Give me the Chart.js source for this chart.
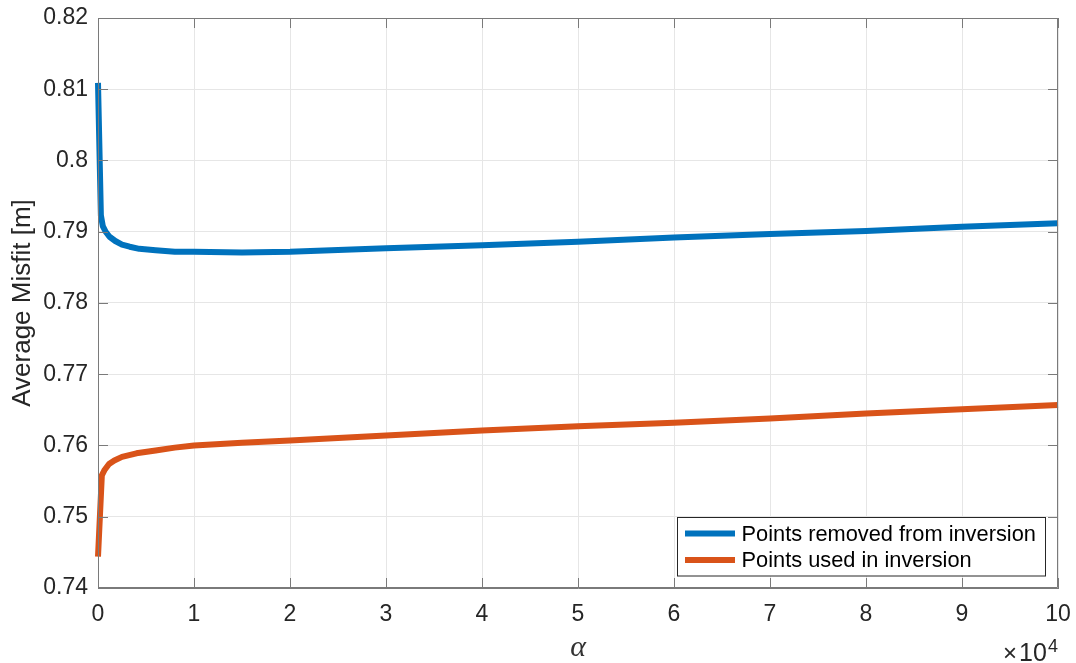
<!DOCTYPE html>
<html><head><meta charset="utf-8">
<script src="https://cdn.jsdelivr.net/npm/chart.js@4"></script>
<style>html,body{margin:0;padding:0;background:#fff}#wrap{width:1076px;height:663px}</style>
</head><body><div id="wrap"><canvas id="c" width="1076" height="663"></canvas></div>
<script>
// ---- data ----
const alphaRemoved  = [0, 300, 500, 800, 1200, 1800, 2500, 3300, 4300, 6000, 8000, 10000, 15000, 20000, 30000, 40000, 50000, 60000, 70000, 80000, 90000, 100000];
const misfitRemoved = [0.8109, 0.7923, 0.7908, 0.7900, 0.7893, 0.7887, 0.7882, 0.7879, 0.7876, 0.7874, 0.7872, 0.7872, 0.7871, 0.7872, 0.7877, 0.7881, 0.7886, 0.7892, 0.7897, 0.7901, 0.7907, 0.7912];
const alphaUsed  = [0, 400, 700, 1150, 1700, 2500, 4000, 6000, 8000, 10000, 15000, 20000, 30000, 40000, 50000, 60000, 70000, 80000, 90000, 100000];
const misfitUsed = [0.7444, 0.7558, 0.7566, 0.7574, 0.7579, 0.7584, 0.7589, 0.7593, 0.7597, 0.7600, 0.7604, 0.7607, 0.7614, 0.7621, 0.7627, 0.7632, 0.7638, 0.7645, 0.7651, 0.7657];
const seriesLabels = ['Points removed from inversion', 'Points used in inversion'];
const seriesColors = ['#0072BD', '#D95319'];
const xTickValues = [0,10000,20000,30000,40000,50000,60000,70000,80000,90000,100000];
const yTickValues = [0.74,0.75,0.76,0.77,0.78,0.79,0.80,0.81,0.82];

const FONT = 'Liberation Sans, Arial, Helvetica, sans-serif';
const AXIS = '#7a7a7a';
const TXT = '#262626';

const toXY = (xs, ys) => xs.map((x, i) => ({x, y: ys[i]}));

const boxPlugin = {
  id: 'matlabBox',
  afterDatasetsDraw(chart) {
    const {ctx, chartArea: a, scales} = chart;
    ctx.save();
    ctx.strokeStyle = AXIS; ctx.lineWidth = 1;
    ctx.beginPath();
    ctx.rect(a.left + 0.5, a.top + 0.5, a.right - a.left - 1, a.bottom - a.top - 1);
    ctx.stroke();
    const L = 10;
    ctx.beginPath();
    xTickValues.forEach(v => {
      const px = Math.round(scales.x.getPixelForValue(v)) + 0.5;
      ctx.moveTo(px, a.bottom); ctx.lineTo(px, a.bottom - L);
      ctx.moveTo(px, a.top); ctx.lineTo(px, a.top + L);
    });
    yTickValues.forEach(v => {
      const py = Math.round(scales.y.getPixelForValue(v)) + 0.5;
      ctx.moveTo(a.left, py); ctx.lineTo(a.left + L, py);
      ctx.moveTo(a.right, py); ctx.lineTo(a.right - L, py);
    });
    ctx.stroke();
    // legend
    const lx = 677.5, ly = 517.5, lw = 368, lh = 58.5;
    ctx.fillStyle = '#fff';
    ctx.fillRect(lx, ly, lw, lh);
    ctx.strokeStyle = '#262626'; ctx.lineWidth = 1;
    ctx.strokeRect(lx, ly, lw, lh);
    ctx.font = '21.8px ' + FONT;
    ctx.textBaseline = 'middle';
    chart.data.datasets.forEach((ds, i) => {
      const y = 533.5 + i * 26.5;
      ctx.strokeStyle = ds.borderColor; ctx.lineWidth = 6;
      ctx.beginPath(); ctx.moveTo(685, y); ctx.lineTo(735, y); ctx.stroke();
      ctx.fillStyle = '#000';
      ctx.fillText(ds.label, 741.5, y + 1);
    });
    // exponent
    ctx.fillStyle = TXT;
    ctx.textBaseline = 'alphabetic';
    ctx.textAlign = 'left';
    ctx.font = '24px ' + FONT;
    ctx.fillText('\u00D7', 1003, 661);
    ctx.font = '25px ' + FONT;
    ctx.fillText('10', 1019, 661);
    ctx.font = '18px ' + FONT;
    ctx.fillText('4', 1048, 652);
    ctx.restore();
  }
};

new Chart(document.getElementById('c'), {
  type: 'line',
  data: {
    datasets: [
      {label: seriesLabels[0], data: toXY(alphaRemoved, misfitRemoved), borderColor: seriesColors[0], backgroundColor: seriesColors[0], borderWidth: 6, pointRadius: 0, tension: 0, borderJoinStyle: 'round', fill: false, clip: false},
      {label: seriesLabels[1], data: toXY(alphaUsed, misfitUsed), borderColor: seriesColors[1], backgroundColor: seriesColors[1], borderWidth: 6, pointRadius: 0, tension: 0, borderJoinStyle: 'round', fill: false, clip: false}
    ]
  },
  options: {
    responsive: false, animation: false, devicePixelRatio: 1,
    layout: {padding: {top: 18, right: 18, left: 0, bottom: 0}},
    plugins: {legend: {display: false}, tooltip: {enabled: false}},
    scales: {
      x: {
        type: 'linear', min: 0, max: 100000,
        afterBuildTicks: s => { s.ticks = xTickValues.map(v => ({value: v})); },
        afterFit: s => { s.height = 75; s.paddingLeft = 0; s.paddingRight = 0; },
        ticks: {callback: v => String(v / 10000), font: {family: FONT, size: 23}, color: TXT, padding: 13, maxRotation: 0, autoSkip: false},
        grid: {color: '#e6e6e6', drawTicks: false, lineWidth: 1},
        border: {display: true, color: AXIS, width: 1},
        title: {display: true, text: '\u03B1', font: {family: 'Liberation Serif, DejaVu Serif, serif', size: 30, style: 'italic'}, color: '#333333', padding: {top: 0, bottom: -3}}
      },
      y: {
        type: 'linear', min: 0.74, max: 0.82,
        afterBuildTicks: s => { s.ticks = yTickValues.map(v => ({value: v})); },
        afterFit: s => { s.width = 98; s.paddingTop = 0; s.paddingBottom = 0; },
        ticks: {callback: v => String(parseFloat(v.toFixed(2))), font: {family: FONT, size: 23}, color: TXT, padding: 10, autoSkip: false},
        grid: {color: '#e6e6e6', drawTicks: false, lineWidth: 1},
        border: {display: true, color: AXIS, width: 1},
        title: {display: true, text: 'Average Misfit [m]', font: {family: FONT, size: 26}, color: TXT, padding: {top: 7, bottom: 0}}
      }
    }
  },
  plugins: [boxPlugin]
});
</script>
</body></html>
